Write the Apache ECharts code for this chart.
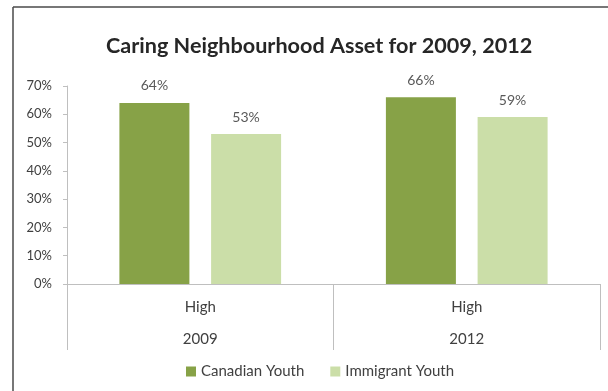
<!DOCTYPE html>
<html>
<head>
<meta charset="utf-8">
<script src="https://cdn.jsdelivr.net/npm/echarts@6/dist/echarts.min.js"></script>
<style>
  html, body { margin: 0; padding: 0; background: #fff; }
  #chart { width: 608px; height: 391px; }
</style>
</head>
<body>
<div id="chart"></div>
<script>
// Share of youth reporting a "High" caring-neighbourhood asset
const years = ['2009', '2012'];
const level = 'High';
const seriesNames = ['Canadian Youth', 'Immigrant Youth'];
const canadianYouth = [64, 66];
const immigrantYouth = [53, 59];
const yTicks = [0, 10, 20, 30, 40, 50, 60, 70];

const FONT = 'Lato, "Open Sans", sans-serif';
const chart = echarts.init(document.getElementById('chart'), null, { renderer: 'canvas' });

const labelStyle = {
  show: true,
  position: 'top',
  distance: 10,
  color: '#595959',
  fontFamily: FONT,
  fontSize: 14,
  formatter: p => p.value + '%'
};

chart.setOption({
  animation: false,
  backgroundColor: '#ffffff',
  title: {
    text: 'Caring Neighbourhood Asset for 2009, 2012',
    left: 101,
    top: 30,
    textStyle: { fontFamily: FONT, fontSize: 21.6, fontWeight: 'bold', color: '#262626' }
  },
  graphic: [
    { type: 'line', shape: { x1: 13, y1: 7, x2: 608, y2: 7 }, style: { stroke: '#4a4a4a', lineWidth: 1.5 } },
    { type: 'line', shape: { x1: 13, y1: 7, x2: 13, y2: 391 }, style: { stroke: '#4a4a4a', lineWidth: 1.5 } }
  ],
  legend: {
    data: seriesNames,
    top: 359,
    left: 181,
    itemWidth: 10,
    itemHeight: 10,
    itemGap: 26,
    icon: 'rect',
    textStyle: { fontFamily: FONT, fontSize: 15, color: '#404040' }
  },
  grid: { left: 67, right: 8, top: 86, bottom: 107, containLabel: false },
  xAxis: {
    type: 'category',
    data: years,
    axisLine: { lineStyle: { color: '#bfbfbf' } },
    axisTick: { show: true, length: 66, interval: 0, lineStyle: { color: '#bfbfbf' } },
    axisLabel: {
      interval: 0,
      margin: 7,
      formatter: v => '{a|' + level + '}\n{b|' + v + '}',
      rich: {
        a: { fontFamily: FONT, fontSize: 15, color: '#404040', lineHeight: 32 },
        b: { fontFamily: FONT, fontSize: 15, color: '#404040', lineHeight: 32 }
      }
    }
  },
  yAxis: {
    type: 'value',
    min: 0,
    max: 70,
    interval: 10,
    axisLine: { show: true, lineStyle: { color: '#bfbfbf' } },
    axisTick: { show: true, length: 4, lineStyle: { color: '#bfbfbf' } },
    splitLine: { show: false },
    axisLabel: {
      margin: 15,
      fontFamily: FONT,
      fontSize: 13,
      color: '#404040',
      formatter: v => (yTicks.includes(v) ? v + '%' : '')
    }
  },
  series: [
    {
      name: seriesNames[0],
      type: 'bar',
      data: canadianYouth,
      barWidth: 70,
      barGap: '31%',
      itemStyle: { color: '#87a247' },
      label: labelStyle
    },
    {
      name: seriesNames[1],
      type: 'bar',
      data: immigrantYouth,
      barWidth: 70,
      itemStyle: { color: '#cbdea8' },
      label: labelStyle
    }
  ]
});
</script>
</body>
</html>
